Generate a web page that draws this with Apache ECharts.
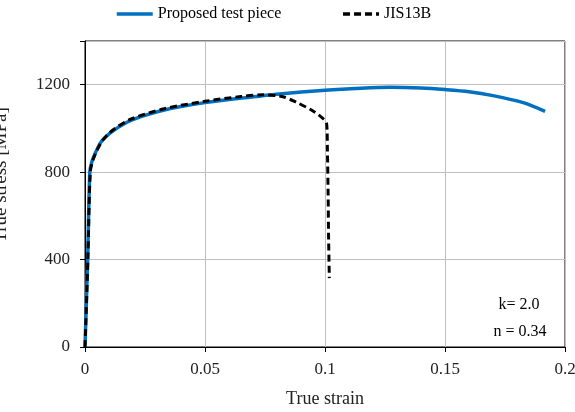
<!DOCTYPE html>
<html>
<head>
<meta charset="utf-8">
<script src="https://cdn.jsdelivr.net/npm/echarts@6/dist/echarts.min.js"></script>
<style>
  html, body { margin: 0; padding: 0; background: #fff; }
  #main { width: 575px; height: 412px; }
</style>
</head>
<body>
<div id="main"></div>
<script>
// Proposed test piece (blue)
const strainProposed = [0, 0.0011, 0.002, 0.0028, 0.0045, 0.0065, 0.009, 0.012, 0.0188, 0.025, 0.0326, 0.04, 0.05, 0.0646, 0.081, 0.1, 0.115, 0.127, 0.14, 0.15, 0.16, 0.17, 0.1826, 0.1917];
const stressProposed = [0, 400, 800, 845, 892, 935, 965, 992, 1035, 1060, 1083, 1100, 1118, 1138, 1158, 1175, 1184, 1188, 1185, 1178, 1168, 1150, 1118, 1078];

// JIS13B (black dashed)
const strainJis = [0, 0.0012, 0.0022, 0.0033, 0.005, 0.007, 0.0095, 0.0125, 0.019, 0.033, 0.05, 0.065, 0.074, 0.082, 0.088, 0.095, 0.0995, 0.1007, 0.101, 0.1013, 0.1015, 0.1018];
const stressJis = [0, 400, 800, 855, 900, 940, 972, 1000, 1042, 1090, 1124, 1146, 1154, 1146, 1120, 1080, 1042, 1020, 900, 700, 500, 315];

const xTicks = [0, 0.05, 0.1, 0.15, 0.2];
const yTicks = [0, 400, 800, 1200];
const notes = ['k= 2.0', 'n = 0.34'];

const font = '"Liberation Serif", "Times New Roman", serif';

function pairs(xs, ys) {
  return xs.map((x, i) => [x, ys[i]]);
}

let myChart = echarts.init(document.getElementById('main'));
let option = {
  animation: false,
  textStyle: { fontFamily: font },
  legend: {
    left: 110,
    top: 1,
    itemWidth: 36,
    itemHeight: 4,
    itemGap: 60,
    itemStyle: { opacity: 0 },
    lineStyle: { width: 3.5 },
    textStyle: { fontFamily: font, fontSize: 16, color: '#000' },
    data: ['Proposed test piece', 'JIS13B']
  },
  grid: {
    left: 85, right: 10, top: 41, bottom: 65,
    outerBoundsMode: 'none',
    containLabel: false,
    show: true, borderColor: '#000', borderWidth: 1
  },
  xAxis: {
    type: 'value',
    min: 0, max: 0.2, interval: 0.05,
    name: 'True strain',
    nameLocation: 'middle',
    nameGap: 43,
    nameTextStyle: { fontFamily: font, fontSize: 18, color: '#222' },
    axisLine: { lineStyle: { color: '#000' } },
    axisTick: { length: 5, lineStyle: { color: '#000' } },
    axisLabel: {
      fontFamily: font, fontSize: 17, color: '#222', margin: 14,
      formatter: v => xTicks.indexOf(+v.toFixed(3)) >= 0 ? String(+v.toFixed(3)) : ''
    },
    splitLine: { show: true, lineStyle: { color: '#bfbfbf' } }
  },
  yAxis: {
    type: 'value',
    min: 0, max: 1400, interval: 400,
    axisLine: { show: true, lineStyle: { color: '#000' } },
    axisTick: { show: true, length: 5, lineStyle: { color: '#000' } },
    axisLabel: {
      fontFamily: font, fontSize: 17, color: '#222', margin: 15,
      formatter: v => yTicks.indexOf(v) >= 0 ? String(v) : ''
    },
    splitLine: { show: true, lineStyle: { color: '#bfbfbf' } }
  },
  graphic: [
    {
      // y axis title, cut off by the left edge like in the source
      type: 'text', x: 1, y: 175, rotation: Math.PI / 2,
      style: { text: 'True stress [MPa]', font: '19px ' + font, fill: '#222', align: 'center', verticalAlign: 'middle' }
    },
    { type: 'text', x: 519, y: 305, style: { text: notes[0], font: '16px ' + font, fill: '#000', align: 'center', verticalAlign: 'middle' } },
    { type: 'text', x: 520, y: 332, style: { text: notes[1], font: '16px ' + font, fill: '#000', align: 'center', verticalAlign: 'middle' } }
  ],
  series: [
    {
      name: 'Proposed test piece',
      type: 'line',
      showSymbol: false,
      symbol: 'none',
      smooth: 0.3,
      lineStyle: { color: '#0070C0', width: 3.5 },
      itemStyle: { color: '#0070C0' },
      data: pairs(strainProposed, stressProposed)
    },
    {
      name: 'JIS13B',
      type: 'line',
      showSymbol: false,
      symbol: 'none',
      smooth: 0.3,
      lineStyle: { color: '#000', width: 3, type: [7, 4] },
      itemStyle: { color: '#000' },
      data: pairs(strainJis, stressJis)
    }
  ]
};
myChart.setOption(option);
</script>
</body>
</html>
